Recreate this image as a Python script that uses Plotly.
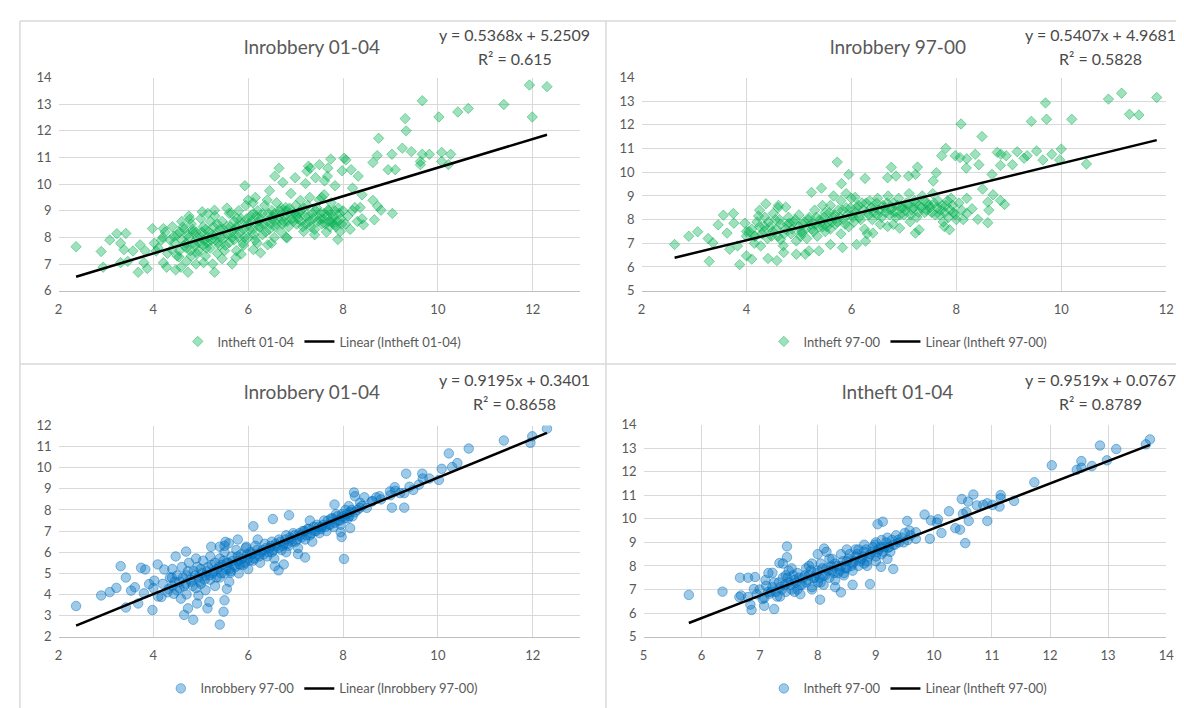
import plotly.graph_objects as go

W, H = 1184, 708

# ---------------- data ----------------
p1_points = [
    (11.93, 13.72), (12.3, 13.66), (9.67, 13.13), (11.39, 12.99), (10.64, 12.84), (10.42, 12.71),
    (10.02, 12.52), (11.99, 12.52), (9.31, 12.46), (9.33, 12.0), (8.75, 11.72), (9.25, 11.35),
    (9.44, 11.22), (9.67, 11.12), (9.82, 11.12), (10.08, 11.19), (10.27, 11.12), (10.08, 10.85),
    (10.22, 10.73), (9.63, 10.73), (9.63, 10.85), (9.03, 11.12), (8.72, 11.07), (8.63, 10.81),
    (8.95, 10.54), (9.1, 10.54), (8.02, 10.97), (8.06, 10.91), (7.74, 10.94), (8.17, 10.54),
    (8.32, 10.3), (7.98, 10.5), (7.5, 10.73), (7.68, 10.6), (7.31, 10.6), (7.24, 10.48),
    (7.27, 10.67), (6.65, 10.6), (6.56, 10.3), (6.99, 10.24), (6.73, 10.06), (7.42, 10.24),
    (7.21, 10.02), (7.61, 10.12), (7.67, 10.3), (7.83, 9.94), (5.93, 9.94), (6.9, 9.65),
    (8.2, 9.85), (8.63, 9.39), (8.73, 9.17), (8.8, 9.02), (9.04, 8.9), (8.25, 9.12),
    (8.36, 9.12), (8.4, 9.6), (8.66, 8.66), (8.43, 8.47), (7.89, 7.92), (7.94, 8.22),
    (2.37, 7.65), (2.9, 7.47), (2.94, 6.88), (3.08, 7.9), (3.23, 8.14), (3.42, 8.15),
    (3.31, 7.78), (3.38, 7.54), (3.31, 7.05), (3.46, 7.1), (3.57, 7.49), (3.68, 6.69),
    (3.72, 7.72), (3.8, 7.05), (3.87, 6.83), (3.83, 7.49), (3.98, 8.33), (4.02, 7.78),
    (4.06, 7.49), (4.17, 7.9), (4.21, 8.33), (4.21, 7.05), (4.28, 6.88), (4.39, 7.54),
    (4.43, 8.04), (4.47, 6.78), (4.54, 7.27), (4.58, 6.88), (4.69, 7.78), (4.73, 6.69),
    (4.62, 8.39), (4.77, 8.68), (4.84, 8.2), (4.92, 7.39), (5.03, 8.96), (5.06, 7.05),
    (5.29, 6.69), (5.29, 9.02), (5.14, 7.8), (5.66, 7.0), (5.74, 7.24), (5.85, 7.37),
    (5.89, 7.78), (6.11, 7.54), (6.19, 7.78), (6.26, 7.42), (6.41, 7.72), (6.49, 7.78),
    (6.11, 8.9), (6.15, 9.5), (6.45, 9.75), (6.56, 8.9), (6.82, 7.98), (6.79, 9.12),
    (7.02, 8.86), (7.1, 9.39), (7.17, 8.22), (7.4, 8.1), (7.55, 9.5), (7.76, 8.57),
    (7.83, 8.47), (7.68, 9.02),
    (4.45, 7.8), (4.5, 8.1), (4.55, 7.5), (4.6, 7.9), (4.65, 8.3), (4.7, 7.6), (4.75, 8.0),
    (4.8, 7.3), (4.8, 8.5), (4.85, 7.8), (4.9, 8.2), (4.95, 7.5), (5.0, 8.0), (5.0, 8.7),
    (4.5, 7.3), (4.6, 8.6), (4.7, 7.1), (4.9, 7.0), (4.4, 8.4), (4.75, 8.8),
    (5.05, 7.7), (5.1, 8.3), (5.1, 7.3), (5.15, 8.0), (5.2, 8.6), (5.2, 7.6), (5.25, 8.1),
    (5.3, 7.9), (5.3, 8.8), (5.35, 7.4), (5.4, 8.3), (5.4, 7.7), (5.45, 8.6), (5.5, 8.0),
    (5.5, 7.5), (5.55, 8.4), (5.6, 7.8), (5.6, 8.9), (5.15, 8.9), (5.35, 8.5), (5.05, 8.4),
    (5.45, 7.2), (5.25, 7.0), (5.55, 9.1),
    (5.65, 8.2), (5.7, 8.6), (5.7, 7.9), (5.75, 8.4), (5.8, 9.0), (5.8, 8.0), (5.85, 8.7),
    (5.9, 8.3), (5.9, 7.7), (5.95, 9.2), (6.0, 8.5), (6.0, 8.0), (6.05, 8.8), (6.1, 8.3),
    (6.1, 9.3), (6.15, 7.9), (6.2, 8.6), (6.2, 9.0), (5.75, 7.5), (6.0, 9.4), (5.65, 8.9),
    (6.25, 8.4), (6.3, 8.9), (6.3, 8.1), (6.35, 9.2), (6.4, 8.6), (6.45, 8.3), (6.5, 9.0),
    (6.5, 8.7), (6.55, 8.0), (6.6, 9.3), (6.6, 8.5), (6.65, 8.8), (6.7, 8.2), (6.7, 9.1),
    (6.75, 8.6), (6.8, 9.0), (6.85, 8.4), (6.9, 8.9), (6.95, 8.6), (7.0, 9.2), (6.4, 9.4),
    (6.8, 8.0),
    (7.05, 8.7), (7.1, 9.0), (7.15, 8.4), (7.2, 8.8), (7.25, 9.2), (7.3, 8.6), (7.35, 8.9),
    (7.4, 8.3), (7.45, 9.1), (7.5, 8.7), (7.5, 9.4), (7.55, 8.5), (7.6, 8.9), (7.65, 8.2),
    (7.7, 9.0), (7.7, 8.6), (7.75, 9.3), (7.8, 8.8), (7.85, 8.4), (7.9, 9.1), (7.95, 8.7),
    (8.0, 9.0), (7.3, 9.5), (7.6, 9.6), (8.05, 8.5), (8.1, 8.8), (8.15, 8.3), (8.2, 9.0),
    (8.3, 8.6), (8.4, 8.7),
    (4.1, 7.6), (4.2, 8.0), (4.3, 7.4), (4.35, 7.9), (4.25, 8.2),
    (4.55, 8.2), (4.65, 7.7), (4.72, 8.1), (4.78, 7.5), (4.83, 8.3), (4.88, 7.7), (4.93, 8.0),
    (4.97, 7.8), (5.02, 8.2), (5.07, 7.9), (5.12, 7.6), (5.17, 8.2), (5.22, 7.9), (5.27, 8.4),
    (5.32, 8.1), (5.37, 7.8), (5.42, 8.0), (5.47, 8.3), (5.52, 7.7), (5.57, 8.1), (5.62, 8.4),
    (5.67, 8.0), (5.72, 8.3), (5.77, 8.7), (5.82, 8.2), (5.87, 8.5), (5.92, 8.0), (5.97, 8.7),
    (6.02, 8.3), (6.07, 8.6), (6.12, 8.1), (6.17, 8.8), (6.22, 8.4), (6.27, 8.7), (6.32, 8.5),
    (6.37, 8.2), (6.42, 8.9), (6.47, 8.5), (6.52, 8.8), (6.57, 8.4), (6.62, 8.7), (6.67, 9.0),
    (6.72, 8.5), (6.77, 8.8), (6.82, 8.6), (6.87, 9.1), (6.92, 8.7), (6.97, 8.9), (7.02, 8.5),
    (7.07, 8.9), (7.12, 8.6), (7.17, 9.1), (7.22, 8.5), (7.27, 8.8), (7.32, 8.4), (7.37, 8.7),
    (7.42, 9.0), (7.47, 8.6), (7.52, 8.9), (7.57, 8.7), (7.62, 8.5), (7.67, 8.8), (7.72, 8.4),
    (7.77, 8.7), (7.82, 9.0), (7.87, 8.6), (7.92, 8.9), (7.97, 8.5),
]

p2_points = [
    (11.15, 13.34), (10.9, 13.09), (11.82, 13.16), (9.7, 12.93), (11.3, 12.45), (11.48, 12.42),
    (9.72, 12.24), (9.43, 12.15), (10.2, 12.24), (8.09, 12.04), (8.49, 11.51), (10.0, 10.98),
    (9.53, 10.9), (9.16, 10.87), (9.35, 10.7), (9.82, 10.76), (9.65, 10.52), (9.97, 10.52),
    (10.48, 10.35), (8.78, 10.84), (8.85, 10.76), (8.95, 10.7), (9.07, 10.32), (8.84, 10.29),
    (9.29, 10.59), (8.68, 9.91), (7.8, 11.01), (7.72, 10.7), (7.98, 10.7), (8.07, 10.62),
    (8.2, 10.57), (8.36, 10.76), (8.43, 10.32), (8.19, 10.18), (8.5, 9.29), (8.7, 9.05),
    (8.84, 8.81), (8.92, 8.64), (8.6, 8.74), (8.62, 8.4), (8.6, 7.87), (8.41, 8.01),
    (8.3, 8.46), (8.2, 8.26), (8.13, 8.0), (7.62, 9.98), (7.56, 9.63), (7.26, 10.22),
    (7.22, 9.91), (6.76, 10.21), (6.69, 9.77), (6.85, 9.84), (7.09, 9.84), (5.73, 10.43),
    (5.95, 9.91), (5.81, 9.52), (6.26, 9.74), (5.43, 9.33), (5.24, 9.15), (5.66, 9.0),
    (6.07, 8.94),
    (2.63, 6.95), (2.9, 7.3), (3.07, 7.49), (3.27, 7.2), (3.29, 6.24), (3.36, 7.02),
    (3.46, 7.78), (3.56, 8.19), (3.63, 7.43), (3.68, 6.75), (3.75, 8.26), (3.76, 7.85),
    (3.83, 6.89), (3.87, 6.1), (3.97, 7.85), (4.0, 7.5), (4.0, 6.47), (4.1, 6.33),
    (4.17, 7.3), (4.23, 8.15), (4.27, 6.89), (4.34, 7.71), (4.37, 8.67), (4.41, 6.36),
    (4.51, 8.26), (4.58, 6.27), (4.61, 8.6), (4.65, 7.16), (4.71, 6.61), (4.75, 8.53),
    (4.82, 7.85), (4.95, 6.54), (5.05, 7.43), (5.12, 6.54), (5.19, 6.68), (5.38, 6.68),
    (5.6, 6.95), (5.83, 6.82), (6.1, 6.95), (6.27, 7.09), (6.41, 7.43), (6.69, 7.71),
    (6.92, 7.64), (7.22, 7.43), (7.29, 7.57), (7.12, 7.91), (7.87, 7.57), (7.77, 7.71),
    (4.0, 7.3), (4.1, 7.6), (4.15, 7.0), (4.2, 7.9), (4.3, 7.4), (4.35, 8.1), (4.4, 7.2),
    (4.45, 7.7), (4.5, 7.5), (4.55, 8.0), (4.6, 7.3), (4.65, 7.8), (4.7, 6.9), (4.75, 7.6),
    (4.8, 8.1), (4.85, 7.4), (4.9, 7.9), (4.95, 7.1), (5.0, 7.7), (5.0, 8.2),
    (5.05, 7.5), (5.1, 7.9), (5.15, 7.2), (5.2, 8.1), (5.25, 7.6), (5.3, 8.4), (5.3, 7.8),
    (5.35, 7.3), (5.4, 8.0), (5.45, 7.7), (5.5, 8.3), (5.5, 7.5), (5.55, 7.9), (5.6, 8.6),
    (5.6, 7.6), (5.65, 8.1), (5.7, 7.8), (5.75, 8.4), (5.8, 7.4), (5.8, 8.8),
    (5.85, 8.0), (5.9, 8.5), (5.95, 7.7), (6.0, 8.2), (6.0, 8.9), (6.05, 7.9), (6.1, 8.5),
    (6.15, 8.1), (6.2, 8.7), (6.25, 7.6), (6.3, 8.3), (6.35, 8.8), (6.4, 8.0), (6.45, 8.5),
    (6.5, 8.2), (6.5, 8.9), (6.55, 7.8), (6.6, 8.6), (6.65, 8.3), (6.7, 9.0),
    (6.75, 8.4), (6.8, 8.7), (6.85, 8.1), (6.9, 8.9), (6.95, 8.5), (7.0, 8.2), (7.05, 8.7),
    (7.1, 9.1), (7.15, 8.4), (7.2, 8.8), (7.25, 8.1), (7.3, 8.6), (7.35, 9.0), (7.4, 8.3),
    (7.45, 8.7), (7.5, 8.5), (7.55, 9.1), (7.6, 8.2), (7.65, 8.8), (7.7, 8.4),
    (7.75, 7.9), (7.8, 8.6), (7.85, 8.1), (7.9, 8.9), (7.95, 8.3), (8.0, 8.0), (8.05, 8.7),
    (8.1, 8.4), (8.2, 8.9), (6.3, 7.4), (6.8, 7.8), (5.45, 8.6), (4.25, 8.4), (4.6, 8.5),
    (5.9, 9.1),
    (4.05, 7.5), (4.15, 7.3), (4.25, 7.7), (4.33, 7.5), (4.42, 7.9), (4.48, 7.3), (4.57, 7.6),
    (4.63, 8.0), (4.72, 7.4), (4.78, 7.8), (4.87, 7.6), (4.93, 8.0), (5.03, 7.3), (5.08, 7.8),
    (5.13, 7.6), (5.18, 8.0), (5.23, 7.8), (5.28, 7.5), (5.33, 8.1), (5.38, 7.7), (5.43, 7.9),
    (5.48, 8.1), (5.53, 7.7), (5.58, 8.3), (5.63, 7.9), (5.68, 8.2), (5.73, 7.9), (5.78, 8.1),
    (5.83, 8.4), (5.88, 7.8), (5.93, 8.2), (5.98, 8.5), (6.03, 8.1), (6.08, 8.3), (6.13, 8.6),
    (6.18, 8.0), (6.23, 8.4), (6.28, 8.7), (6.33, 8.2), (6.38, 8.5), (6.43, 8.3), (6.48, 8.7),
    (6.53, 8.4), (6.58, 8.1), (6.63, 8.5), (6.68, 8.7), (6.73, 8.2), (6.78, 8.5), (6.83, 8.3),
    (6.88, 8.6), (6.93, 8.2), (6.98, 8.5), (7.03, 8.4), (7.08, 8.6), (7.13, 8.2), (7.18, 8.5),
    (7.23, 8.7), (7.28, 8.3), (7.33, 8.5), (7.38, 8.8), (7.43, 8.4), (7.48, 8.6), (7.53, 8.3),
    (7.58, 8.7), (7.63, 8.5), (7.68, 8.2), (7.73, 8.6), (7.78, 8.3), (7.83, 8.8), (7.88, 8.4),
    (7.93, 8.6), (7.98, 8.2),
]

p3_points = [
    (12.3, 11.85), (11.99, 11.49), (11.95, 11.18), (11.39, 11.29), (10.65, 10.91), (10.23, 10.68),
    (10.41, 10.22), (10.3, 10.03), (10.08, 9.95), (10.02, 9.42), (9.67, 9.72), (9.33, 9.72),
    (9.68, 9.49), (9.48, 8.95), (9.82, 9.49), (9.09, 9.08), (8.99, 8.88), (9.29, 8.8),
    (9.03, 8.11), (9.29, 8.11), (8.77, 8.65), (8.62, 8.42), (8.45, 8.6), (8.23, 8.83),
    (8.25, 8.65), (8.36, 8.34), (8.12, 8.18), (8.02, 5.68), (8.15, 7.14), (7.95, 6.95),
    (7.97, 6.72), (7.82, 8.26), (6.86, 7.75), (6.52, 7.57), (6.11, 7.23), (7.2, 5.75),
    (7.05, 5.91), (6.75, 5.42), (6.64, 5.14), (6.56, 5.34), (5.78, 6.6), (5.52, 6.49),
    (5.4, 6.26),
    (2.37, 3.45), (2.9, 3.95), (3.08, 4.11), (3.22, 4.31), (3.31, 5.34), (3.42, 4.8),
    (3.42, 3.38), (3.53, 4.18), (3.61, 4.34), (3.68, 3.57), (3.74, 5.26), (3.83, 5.18),
    (3.8, 4.05), (3.91, 4.49), (3.98, 3.26), (4.02, 4.65), (4.09, 5.42), (4.17, 3.88),
    (4.23, 5.18), (4.32, 4.26), (4.39, 4.8), (4.43, 4.03), (4.47, 5.8), (4.58, 3.8),
    (4.65, 3.03), (4.73, 3.34), (4.69, 6.03), (4.84, 2.8), (4.92, 3.57), (4.95, 3.95),
    (5.14, 3.34), (5.18, 3.65), (5.4, 2.57), (5.48, 3.18), (5.5, 3.72), (5.55, 4.26),
    (5.63, 5.03), (5.22, 6.26), (5.59, 6.42), (5.81, 5.45), (5.96, 6.26),
    (4.0, 4.3), (4.1, 3.9), (4.2, 4.5), (4.3, 4.1), (4.35, 4.8), (4.4, 4.4), (4.5, 4.9),
    (4.5, 4.2), (4.55, 4.6), (4.6, 5.3), (4.65, 4.4), (4.7, 4.9), (4.7, 4.0), (4.75, 5.5),
    (4.8, 4.6), (4.85, 5.1), (4.9, 4.3), (4.9, 5.7), (4.95, 4.8), (5.0, 5.2),
    (5.0, 4.5), (5.05, 5.6), (5.1, 4.9), (5.1, 4.2), (5.15, 5.3), (5.2, 4.7), (5.2, 5.8),
    (5.25, 5.0), (5.3, 5.5), (5.3, 4.4), (5.35, 5.2), (5.4, 5.7), (5.4, 4.8), (5.45, 5.4),
    (5.5, 5.0), (5.5, 6.0), (5.55, 5.5), (5.6, 5.2), (5.6, 4.6), (5.65, 5.8),
    (5.7, 5.4), (5.75, 6.1), (5.8, 5.6), (5.8, 5.0), (5.85, 5.9), (5.9, 5.4), (5.95, 6.2),
    (6.0, 5.7), (6.0, 5.2), (6.05, 6.0), (6.1, 5.6), (6.15, 6.3), (6.2, 5.9), (6.25, 5.5),
    (6.3, 6.1), (6.35, 6.4), (6.4, 5.8), (6.45, 6.2), (6.5, 6.5), (6.5, 6.0),
    (6.55, 5.7), (6.6, 6.3), (6.65, 6.6), (6.7, 6.1), (6.75, 6.4), (6.8, 6.8), (6.85, 6.3),
    (6.9, 6.6), (6.95, 6.9), (7.0, 6.5), (7.05, 6.2), (7.1, 6.8), (7.15, 7.0), (7.2, 6.6),
    (7.25, 7.1), (7.3, 6.8), (7.35, 6.5), (7.4, 7.0), (7.45, 7.3), (7.5, 6.9),
    (7.55, 7.2), (7.6, 7.5), (7.65, 7.0), (7.7, 7.3), (7.75, 7.6), (7.8, 7.2), (7.85, 7.8),
    (7.9, 7.5), (7.95, 7.3), (8.0, 7.7), (8.05, 8.0), (8.1, 7.6), (8.15, 7.9), (8.2, 7.7),
    (8.3, 8.0), (8.4, 8.2), (8.5, 8.1), (8.6, 8.4), (8.7, 8.6), (8.8, 8.5),
    (9.0, 8.7), (9.1, 8.9), (9.2, 8.8), (9.4, 9.1), (9.6, 9.2), (6.2, 6.6), (5.5, 6.3),
    (6.8, 6.0), (7.3, 7.5), (4.4, 5.2),
    (4.45, 4.6), (4.55, 4.3), (4.62, 4.8), (4.68, 4.5), (4.73, 5.1), (4.78, 4.7), (4.83, 4.4),
    (4.88, 4.9), (4.93, 5.3), (4.98, 4.6), (5.03, 5.0), (5.08, 4.7), (5.13, 5.1), (5.18, 4.9),
    (5.23, 5.4), (5.28, 5.1), (5.33, 4.8), (5.38, 5.3), (5.43, 5.0), (5.48, 5.6), (5.53, 5.2),
    (5.58, 5.5), (5.63, 5.1), (5.68, 5.6), (5.73, 5.3), (5.78, 5.8), (5.83, 5.4), (5.88, 5.7),
    (5.93, 5.5), (5.98, 5.9), (6.03, 5.6), (6.08, 5.9), (6.13, 5.7), (6.18, 6.1), (6.23, 5.8),
    (6.28, 6.0), (6.33, 5.9), (6.38, 6.2), (6.43, 6.0), (6.48, 6.3), (6.53, 6.1), (6.58, 6.4),
    (6.63, 6.2), (6.68, 6.5), (6.73, 6.3), (6.78, 6.6), (6.83, 6.4), (6.88, 6.7), (6.93, 6.5),
    (6.98, 6.8), (7.03, 6.6), (7.08, 6.9), (7.13, 6.7), (7.18, 7.0), (7.23, 6.8), (7.28, 7.1),
    (7.33, 6.9), (7.38, 7.2), (7.43, 7.0), (7.48, 7.2), (7.53, 7.1), (7.58, 7.3), (7.63, 7.2),
    (7.68, 7.5), (7.73, 7.3), (7.78, 7.6), (7.83, 7.4), (7.88, 7.7), (7.93, 7.5), (7.98, 7.8),
    (8.03, 7.6), (8.08, 7.8), (8.13, 7.7), (8.18, 8.0), (8.25, 7.9), (8.35, 8.1),
]

p4_points = [
    (13.72, 13.37), (13.65, 13.16), (12.86, 13.11), (13.14, 12.96), (12.98, 12.48), (12.54, 12.45),
    (12.46, 12.08), (12.54, 12.17), (12.72, 12.24), (12.03, 12.27), (11.73, 11.55), (11.38, 10.76),
    (11.15, 11.01), (11.15, 10.87), (11.13, 10.52), (10.92, 10.66), (11.01, 10.59), (10.85, 10.59),
    (10.74, 10.57), (10.68, 11.03), (10.59, 10.73), (10.48, 10.84), (10.56, 10.29), (10.5, 10.21),
    (10.6, 9.91), (10.92, 9.91), (10.54, 8.97), (10.45, 9.54), (10.37, 9.6), (10.26, 10.32),
    (10.07, 9.98), (10.05, 9.84), (9.95, 9.93), (9.84, 10.18), (10.13, 9.4), (9.93, 9.15),
    (9.69, 9.15), (9.69, 9.43), (9.54, 9.91), (9.12, 9.88), (9.03, 9.77), (9.3, 7.87),
    (8.9, 7.23), (8.4, 6.88), (8.04, 6.57), (8.6, 7.2), (8.11, 8.74), (7.47, 8.83),
    (7.47, 8.37), (7.25, 6.17), (7.08, 6.31), (6.86, 6.13), (6.84, 6.36), (6.8, 6.68),
    (6.65, 6.68), (6.68, 6.75), (6.66, 7.5), (6.8, 7.5), (6.92, 7.53), (6.36, 6.91),
    (5.78, 6.77), (6.9, 7.02), (7.08, 6.64), (7.11, 7.16), (7.22, 7.71), (7.34, 8.12),
    (7.17, 6.82), (9.21, 8.77), (9.09, 7.96),
    (7.2, 6.9), (7.25, 7.3), (7.3, 6.7), (7.35, 7.1), (7.4, 7.5), (7.45, 6.9), (7.5, 7.3),
    (7.5, 7.8), (7.55, 7.0), (7.6, 7.4), (7.65, 7.7), (7.7, 7.2), (7.7, 6.8), (7.75, 7.5),
    (7.8, 7.9), (7.8, 7.3), (7.85, 7.6), (7.9, 7.1), (7.9, 8.1), (7.95, 7.5),
    (8.0, 7.8), (8.0, 7.3), (8.05, 8.1), (8.1, 7.6), (8.1, 7.2), (8.15, 7.9), (8.2, 7.5),
    (8.2, 8.3), (8.25, 7.8), (8.3, 7.4), (8.3, 8.1), (8.35, 7.7), (8.4, 8.0), (8.4, 8.5),
    (8.45, 7.6), (8.5, 8.2), (8.5, 7.9), (8.55, 8.5), (8.6, 8.1), (8.6, 7.8),
    (8.65, 8.4), (8.7, 8.7), (8.7, 8.0), (8.75, 8.3), (8.8, 8.6), (8.8, 8.9), (8.85, 8.2),
    (8.9, 8.5), (8.95, 8.8), (9.0, 8.4), (9.0, 9.0), (9.05, 8.7), (9.1, 8.5), (9.1, 9.1),
    (9.15, 8.8), (9.2, 9.2), (9.25, 8.6), (9.3, 8.9), (9.35, 9.3), (9.4, 9.0),
    (9.45, 9.2), (9.5, 9.4), (9.55, 9.1), (9.6, 9.3), (7.0, 7.0), (7.05, 6.6), (7.1, 7.4),
    (6.95, 6.8), (7.15, 7.7), (7.4, 8.1), (7.6, 6.9), (8.0, 8.5), (8.3, 7.1), (8.5, 8.7),
    (8.8, 8.1), (9.0, 8.2), (9.2, 8.3), (7.9, 7.0), (8.15, 8.6), (7.55, 7.9),
    (7.22, 7.1), (7.28, 6.9), (7.33, 7.3), (7.38, 7.0), (7.43, 7.2), (7.48, 7.5), (7.53, 7.2),
    (7.58, 7.6), (7.63, 7.3), (7.68, 7.5), (7.73, 7.2), (7.78, 7.6), (7.83, 7.4), (7.88, 7.8),
    (7.93, 7.5), (7.98, 7.7), (8.03, 7.5), (8.08, 7.9), (8.13, 7.6), (8.18, 7.8), (8.23, 8.0),
    (8.28, 7.7), (8.33, 8.0), (8.38, 7.8), (8.43, 8.2), (8.48, 7.9), (8.53, 8.3), (8.58, 8.0),
    (8.63, 8.2), (8.68, 8.5), (8.73, 8.2), (8.78, 8.4), (8.83, 8.7), (8.88, 8.4), (8.93, 8.6),
    (8.98, 8.9), (9.03, 8.6), (9.08, 8.8), (9.13, 8.6), (9.18, 9.0), (9.23, 8.8), (9.28, 9.1),
    (9.33, 8.9), (9.38, 9.1), (9.48, 9.0), (9.58, 9.5), (7.45, 7.6), (7.65, 7.0), (7.85, 8.0),
    (8.05, 7.3), (8.25, 8.3), (8.45, 7.7), (8.65, 8.7), (8.85, 8.0), (7.35, 6.7), (7.15, 6.9),
]

titles = ["lnrobbery 01-04", "lnrobbery 97-00", "lnrobbery 01-04", "lntheft 01-04"]
series_names = ["lntheft 01-04", "lntheft 97-00", "lnrobbery 97-00", "lntheft 97-00"]
slopes = [0.5368, 0.5407, 0.9195, 0.9519]
intercepts = [5.2509, 4.9681, 0.3401, 0.0767]
equations = ["y = 0.5368x + 5.2509", "y = 0.5407x + 4.9681", "y = 0.9195x + 0.3401", "y = 0.9519x + 0.0767"]
r2_labels = ["R² = 0.615", "R² = 0.5828", "R² = 0.8658", "R² = 0.8789"]
x_ranges = [(2, 13), (2, 12), (2, 13), (5, 14)]
y_ranges = [(6, 14), (5, 14), (2, 12), (5, 14)]
x_dticks = [2, 2, 2, 1]
all_points = [p1_points, p2_points, p3_points, p4_points]

# ---------------- layout geometry (pixels) ----------------
plot_boxes = [  # left, right, top, bottom in px
    (47, 574, 63, 281),
    (636, 1166, 63, 281),
    (47, 574, 419, 635),
    (638, 1166, 418, 635),
]
title_pos = [(303, 31), (895, 31), (303, 384), (895, 384)]
eq_pos = [(508, 19, 43), (1100, 19, 43), (508, 372, 396), (1100, 372, 396)]
legend_pos = [(313, 333), (905, 333), (313, 688), (905, 688)]

FONT = "Lato, 'Open Sans', Arial, sans-serif"
GREEN = "0,176,80"
BLUE = "0,112,192"


def px(x):
    return x / W


def py(y):
    return 1 - y / H


fig = go.Figure()
annotations = []
shapes = []

for i in range(4):
    pts = all_points[i]
    xs = [p[0] for p in pts]
    ys = [p[1] for p in pts]
    ax = "" if i == 0 else str(i + 1)
    leg = "legend" if i == 0 else f"legend{i + 1}"
    col = GREEN if i < 2 else BLUE
    sym = "diamond" if i < 2 else "circle"
    size = 8 if i < 2 else 9.5
    fig.add_trace(go.Scatter(
        x=xs, y=ys, mode="markers", name=series_names[i],
        xaxis="x" + ax, yaxis="y" + ax, legend=leg,
        marker=dict(symbol=sym, size=size, color=f"rgba({col},0.38)",
                    line=dict(color=f"rgba({col},0.45)", width=1)),
        hoverinfo="skip",
    ))
    x0, x1 = min(xs), max(xs)
    fig.add_trace(go.Scatter(
        x=[x0, x1], y=[slopes[i] * x0 + intercepts[i], slopes[i] * x1 + intercepts[i]],
        mode="lines", name=f"Linear ({series_names[i]})",
        xaxis="x" + ax, yaxis="y" + ax, legend=leg,
        line=dict(color="black", width=2.5), hoverinfo="skip",
    ))

    l, r, t, b = plot_boxes[i]
    xa = dict(domain=[px(l), px(r)], range=list(x_ranges[i]), dtick=x_dticks[i], tick0=0,
              showgrid=True, gridcolor="#d9d9d9", gridwidth=1, zeroline=False,
              showline=True, linecolor="#bfbfbf", linewidth=1,
              ticks="", tickfont=dict(family=FONT, size=13, color="#595959"),
              ticklabelstandoff=7, anchor="y" + ax, fixedrange=True)
    ya = dict(domain=[py(b), py(t)], range=list(y_ranges[i]), dtick=1,
              showgrid=True, gridcolor="#d9d9d9", gridwidth=1, zeroline=False,
              showline=False, ticks="", tickfont=dict(family=FONT, size=13, color="#595959"),
              ticklabelstandoff=6, anchor="x" + ax, fixedrange=True)
    fig.update_layout(**{"xaxis" + ax: xa, "yaxis" + ax: ya})

    tx, ty = title_pos[i]
    annotations.append(dict(text=titles[i], x=px(tx), y=py(ty), xref="paper", yref="paper",
                            showarrow=False, xanchor="center", yanchor="middle",
                            font=dict(family=FONT, size=19, color="#595959")))
    ex, ey1, ey2 = eq_pos[i]
    annotations.append(dict(text=equations[i], x=px(ex), y=py(ey1), xref="paper", yref="paper",
                            showarrow=False, xanchor="center", yanchor="middle",
                            font=dict(family=FONT, size=16, color="#4a4a4a")))
    annotations.append(dict(text=r2_labels[i], x=px(ex), y=py(ey2), xref="paper", yref="paper",
                            showarrow=False, xanchor="center", yanchor="middle",
                            font=dict(family=FONT, size=16, color="#4a4a4a")))

    lx, ly = legend_pos[i]
    fig.update_layout(**{leg: dict(orientation="h", x=px(lx), y=py(ly), xanchor="center",
                                   yanchor="middle", bgcolor="rgba(0,0,0,0)",
                                   font=dict(family=FONT, size=13, color="#595959"),
                                   itemwidth=30, tracegroupgap=0)})

border = "#d9d9d9"
shapes.append(dict(type="line", xref="paper", yref="paper", x0=px(8), x1=px(8), y0=py(5), y1=0,
                   line=dict(color=border, width=1.5)))
shapes.append(dict(type="line", xref="paper", yref="paper", x0=px(600), x1=px(600), y0=py(5), y1=0,
                   line=dict(color=border, width=1.5)))
shapes.append(dict(type="line", xref="paper", yref="paper", x0=px(8), x1=1, y0=py(356), y1=py(356),
                   line=dict(color=border, width=1.5)))
shapes.append(dict(type="line", xref="paper", yref="paper", x0=px(8), x1=1, y0=py(5), y1=py(5),
                   line=dict(color=border, width=1.5)))

fig.update_layout(
    width=W, height=H, margin=dict(l=0, r=0, t=0, b=0),
    paper_bgcolor="white", plot_bgcolor="white",
    annotations=annotations, shapes=shapes, showlegend=True,
    font=dict(family=FONT, color="#595959"),
)

fig.write_html("out.html")
